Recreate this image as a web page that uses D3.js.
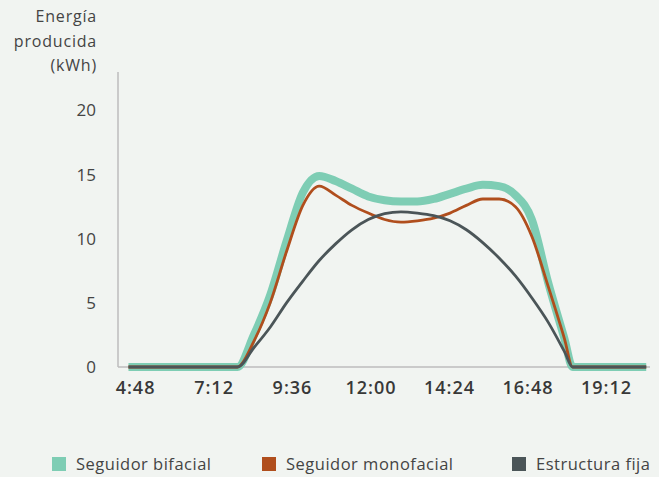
<!DOCTYPE html>
<html lang="es">
<head>
<meta charset="utf-8">
<title>Energía producida</title>
<script src="https://cdnjs.cloudflare.com/ajax/libs/d3/7.8.5/d3.min.js"></script>
<style>
  body { margin: 0; background: #f1f4f1; }
  text { font-family: "Open Sans", sans-serif; fill: #444; }
</style>
</head>
<body>
<div id="chart"></div>
<script>
// hora de cada muestra
var horas = ["4:35", "7:55", "8:25", "8:55", "9:25", "9:55", "10:25", "10:55", "11:25",
  "11:55", "12:25", "12:55", "13:25", "13:55", "14:25", "14:55", "15:25", "15:55",
  "16:25", "16:55", "17:25", "17:55", "18:10", "20:25"];

var bifacial = [0, 0, 2.5, 5.6, 9.8, 13.6, 14.9, 14.5, 13.9, 13.3, 13.0, 12.9, 12.9,
  13.1, 13.5, 13.9, 14.2, 14.1, 13.4, 11.5, 6.6, 2.2, 0, 0];
var monofacial = [0, 0, 2.0, 5.0, 9.0, 12.6, 14.1, 13.4, 12.6, 12.0, 11.5, 11.3, 11.4,
  11.6, 12.0, 12.6, 13.1, 13.1, 12.5, 10.2, 6.3, 2.2, 0, 0];
var fija = [0, 0, 1.5, 3.1, 5.0, 6.7, 8.3, 9.6, 10.7, 11.5, 11.95, 12.1, 12.0,
  11.8, 11.4, 10.7, 9.7, 8.5, 7.1, 5.4, 3.5, 1.2, 0, 0];

var xTicks = ["4:48", "7:12", "9:36", "12:00", "14:24", "16:48", "19:12"];
var yTicks = [0, 5, 10, 15, 20];

var series = [
  {name: "Seguidor bifacial", values: bifacial, color: "#7ecdb4", width: 8},
  {name: "Seguidor monofacial", values: monofacial, color: "#b04e1d", width: 2.8},
  {name: "Estructura fija", values: fija, color: "#4b5558", width: 2.8}
];

function toMin(s) {
  var p = s.split(":");
  return +p[0] * 60 + +p[1];
}

var width = 659, height = 477;

var svg = d3.select("#chart").append("svg")
  .attr("width", width)
  .attr("height", height);

// 12:00 cae en x=371, 144 min = 78.5 px
var x = d3.scaleLinear()
  .domain([720 - (371 - 118) / 0.545, 720 + (650 - 371) / 0.545])
  .range([118, 650]);

var y = d3.scaleLinear()
  .domain([0, 23])
  .range([367, 72]);

// ejes
svg.append("line")
  .attr("x1", 118).attr("x2", 118)
  .attr("y1", y(23)).attr("y2", y(0))
  .attr("stroke", "#bcbcbc").attr("stroke-width", 1.5);
svg.append("line")
  .attr("x1", 118).attr("x2", 650)
  .attr("y1", y(0)).attr("y2", y(0))
  .attr("stroke", "#bcbcbc").attr("stroke-width", 1.5);

svg.selectAll(".ytick")
  .data(yTicks)
  .enter().append("text")
  .attr("class", "ytick")
  .attr("x", 96)
  .attr("y", function(d) { return y(d) + 6; })
  .attr("text-anchor", "end")
  .style("font-size", "17px")
  .text(function(d) { return d; });

svg.selectAll(".xtick")
  .data(xTicks)
  .enter().append("text")
  .attr("class", "xtick")
  .attr("x", function(d) { return x(toMin(d)); })
  .attr("y", 394)
  .attr("text-anchor", "middle")
  .style("font-size", "18px")
  .style("font-weight", "600")
  .style("letter-spacing", "1px")
  .style("fill", "#383838")
  .text(function(d) { return d; });

// titulo eje y
var title = ["Energía", "producida", "(kWh)"];
svg.selectAll(".ytitle")
  .data(title)
  .enter().append("text")
  .attr("class", "ytitle")
  .attr("x", 97)
  .attr("y", function(d, i) { return 22 + i * 24.5; })
  .attr("text-anchor", "end")
  .style("font-size", "16px")
  .style("letter-spacing", "0.8px")
  .text(function(d) { return d; });

// lineas
var line = d3.line()
  .x(function(d, i) { return x(toMin(horas[i])); })
  .y(function(d) { return y(d); })
  .curve(d3.curveMonotoneX);

svg.selectAll(".serie")
  .data(series)
  .enter().append("path")
  .attr("class", "serie")
  .attr("d", function(s) { return line(s.values); })
  .attr("fill", "none")
  .attr("stroke", function(s) { return s.color; })
  .attr("stroke-width", function(s) { return s.width; })
  .attr("stroke-linejoin", "round");

// leyenda
var legX = [52, 262, 512];
var leg = svg.selectAll(".leg")
  .data(series)
  .enter().append("g")
  .attr("class", "leg")
  .attr("transform", function(d, i) { return "translate(" + legX[i] + ",457)"; });
leg.append("rect")
  .attr("width", 14).attr("height", 14)
  .attr("fill", function(d) { return d.color; });
leg.append("text")
  .attr("x", 24).attr("y", 13)
  .style("font-size", "16.5px")
  .style("letter-spacing", "0.5px")
  .text(function(d) { return d.name; });
</script>
</body>
</html>
